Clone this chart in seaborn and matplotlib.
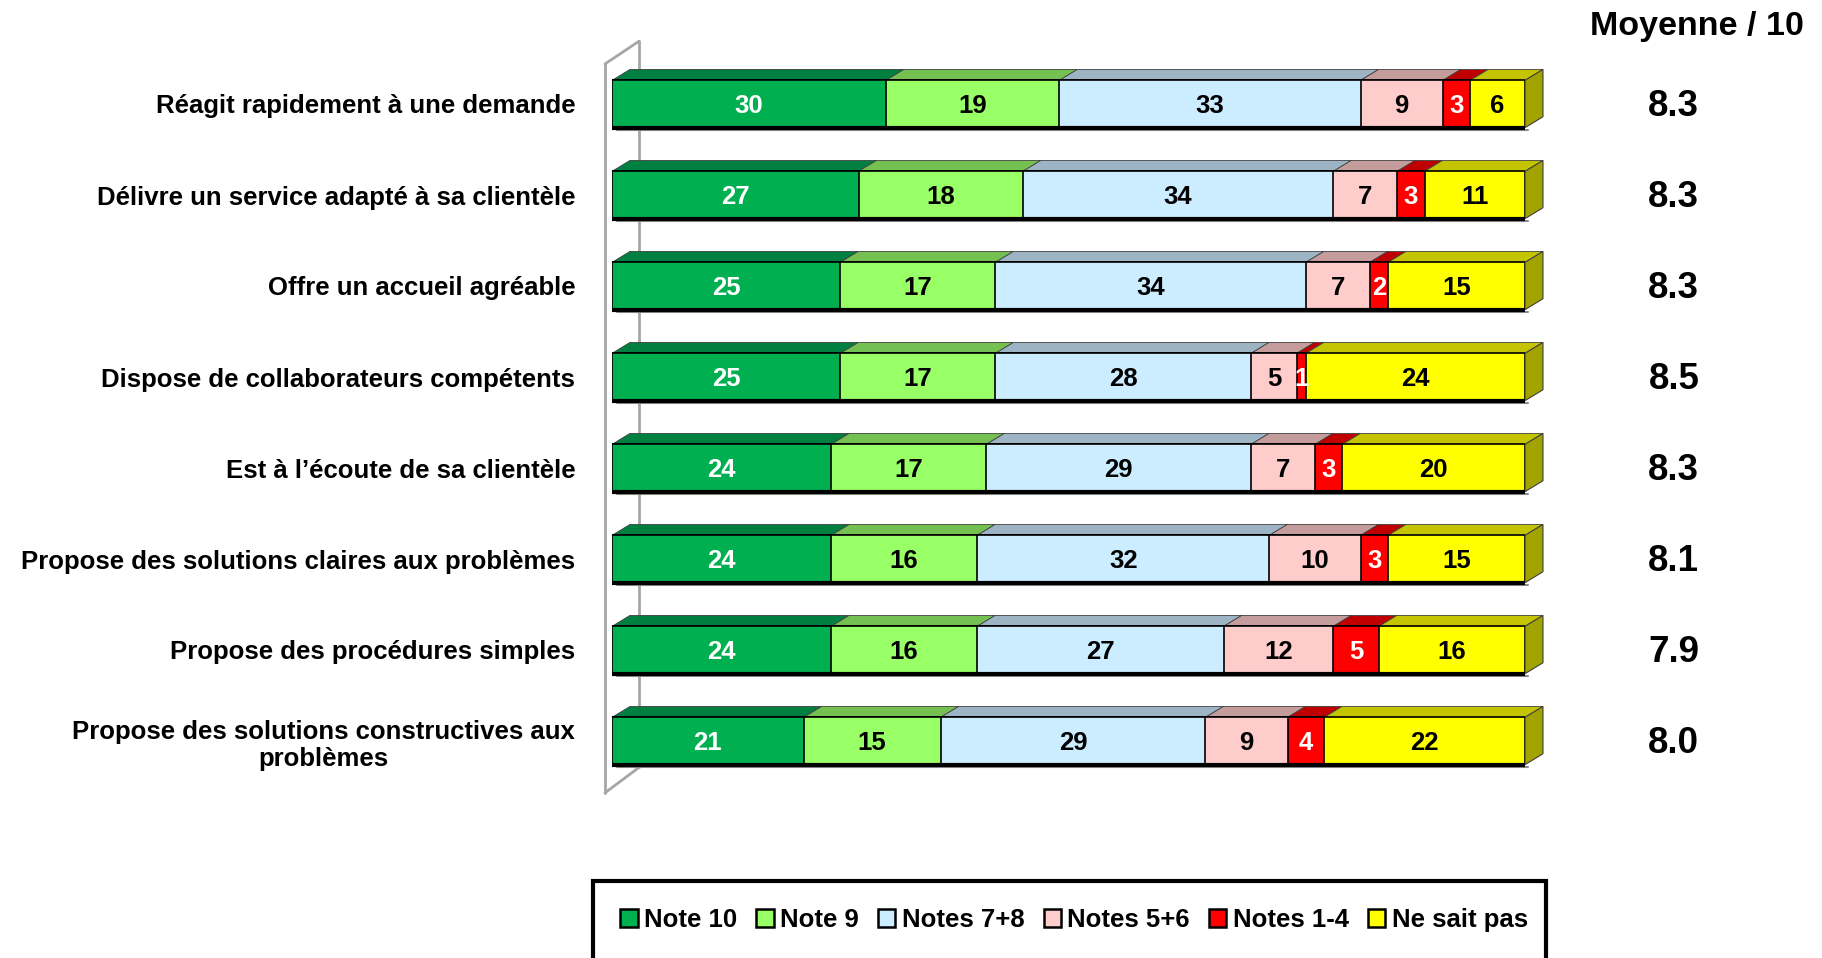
import pandas as pd
import numpy as np
import matplotlib
matplotlib.use("Agg")
import matplotlib.pyplot as plt
import seaborn as sns
from matplotlib import font_manager
from matplotlib.patches import Polygon, Patch, Rectangle

# ---------------- DATA ----------------
categories = [
    "Réagit rapidement à une demande",
    "Délivre un service adapté à sa clientèle",
    "Offre un accueil agréable",
    "Dispose de collaborateurs compétents",
    "Est à l’écoute de sa clientèle",
    "Propose des solutions claires aux problèmes",
    "Propose des procédures simples",
    "Propose des solutions constructives aux\nproblèmes",
]
note_10 = [30, 27, 25, 25, 24, 24, 24, 21]
note_9 = [19, 18, 17, 17, 17, 16, 16, 15]
notes_7_8 = [33, 34, 34, 28, 29, 32, 27, 29]
notes_5_6 = [9, 7, 7, 5, 7, 10, 12, 9]
notes_1_4 = [3, 3, 2, 1, 3, 3, 5, 4]
ne_sait_pas = [6, 11, 15, 24, 20, 15, 16, 22]
moyennes = ["8.3", "8.3", "8.3", "8.5", "8.3", "8.1", "7.9", "8.0"]

series_names = ["Note 10", "Note 9", "Notes 7+8", "Notes 5+6", "Notes 1-4", "Ne sait pas"]
front_colors = ["#00B050", "#99FF66", "#CCECFF", "#FFCCCC", "#FF0000", "#FFFF00"]
top_colors = ["#008040", "#74C050", "#9CB4C4", "#C49C9C", "#C00000", "#C4C400"]
text_colors = ["white", "black", "black", "black", "white", "black"]
SIDE_COLOR = "#A3A300"

# ---------------- SETTINGS ----------------
BAR_H = 0.52
DX, DY = 1.97, 0.12   # depth of the 3D faces in data units
WALL = "#A6A6A6"

narrow_ok = any(f.name == "Liberation Sans Narrow" for f in font_manager.fontManager.ttflist)
LABEL_FAMILY = ["Liberation Sans Narrow", "Liberation Sans", "DejaVu Sans"] if narrow_ok else ["Liberation Sans", "DejaVu Sans"]
LABEL_SIZE = 22.5 if narrow_ok else 18.5
LEG_SIZE = 21.5 if narrow_ok else 18.5
HEAD_SIZE = 29 if narrow_ok else 24.5
NUM_FAMILY = ["Liberation Sans", "DejaVu Sans"]

sns.set_style("white")
plt.rcParams["font.family"] = ["Liberation Sans", "DejaVu Sans"]
plt.rcParams["text.color"] = "black"
plt.rcParams["ytick.color"] = "black"
plt.rcParams["ytick.labelcolor"] = "black"

df = pd.DataFrame({
    "cat": categories,
    "Note 10": note_10,
    "Note 9": note_9,
    "Notes 7+8": notes_7_8,
    "Notes 5+6": notes_5_6,
    "Notes 1-4": notes_1_4,
    "Ne sait pas": ne_sait_pas,
})
cum = df[series_names].cumsum(axis=1)
starts = cum - df[series_names]

fig = plt.figure(figsize=(18.22, 9.58), dpi=100)
ax = fig.add_axes([612 / 1822, 1 - 786.5 / 958, 913 / 1822, 728 / 958])

# stacked bars: draw cumulative totals from largest to smallest
for name, col in reversed(list(zip(series_names, front_colors))):
    sns.barplot(x=cum[name], y=df["cat"], orient="h", color=col, saturation=1,
                width=BAR_H, edgecolor="black", linewidth=1.2, ax=ax, zorder=3)

ax.set_xlim(0, 100)
ax.set_ylim(len(categories) - 0.5, -0.5)

# 3D top faces and right side
for i in range(len(categories)):
    yt = i - BAR_H / 2
    yb = i + BAR_H / 2
    for k, name in enumerate(series_names):
        s, e = starts.loc[i, name], cum.loc[i, name]
        if e <= s:
            continue
        ax.add_patch(Polygon([(s, yt), (e, yt), (e + DX, yt - DY), (s + DX, yt - DY)],
                             closed=True, facecolor=top_colors[k], edgecolor="#404040",
                             linewidth=0.6, zorder=2, clip_on=False))
        mid = (s + e) / 2
        ax.text(mid, i + 0.02, str(df.loc[i, name]), ha="center", va="center",
                color=text_colors[k], fontsize=18.5, fontweight="bold",
                family=NUM_FAMILY, zorder=5)
    total = cum.loc[i, series_names[-1]]
    ax.add_patch(Polygon([(total, yt), (total + DX, yt - DY), (total + DX, yb - DY), (total, yb)],
                         closed=True, facecolor=SIDE_COLOR, edgecolor="#404040",
                         linewidth=0.8, zorder=2, clip_on=False))
    ax.plot([0, total], [yb, yb], color="black", linewidth=3, zorder=4,
            solid_capstyle="butt", clip_on=False)
    ax.plot([DX * 0.3, total + DX * 0.15], [yb + 0.03, yb + 0.03], color="#8C8C8C",
            linewidth=1.5, zorder=1, clip_on=False)
    # mean score column
    ax.text(116.3, i + 0.03, moyennes[i], ha="center", va="center", fontsize=26.5,
            fontweight="bold", family=NUM_FAMILY, clip_on=False)

ax.text(118.8, -0.85, "Moyenne / 10", ha="center", va="center", fontsize=HEAD_SIZE,
        fontweight="heavy", family=LABEL_FAMILY, clip_on=False)

# back wall outline
ax.plot([-0.77, -0.77], [-0.44, 7.57], color=WALL, linewidth=2, zorder=1, clip_on=False)
ax.plot([2.96, 2.96], [-0.69, 7.29], color=WALL, linewidth=2, zorder=0, clip_on=False)
ax.plot([-0.77, 2.96], [-0.44, -0.69], color=WALL, linewidth=2, zorder=0, clip_on=False)
ax.plot([-0.77, 2.96], [7.57, 7.29], color=WALL, linewidth=2, zorder=0, clip_on=False)

# axes cosmetics
sns.despine(ax=ax, left=True, bottom=True)
ax.set_xlabel("")
ax.set_ylabel("")
ax.set_xticks([])
ax.set_yticks(range(len(categories)))
ax.set_yticklabels(categories, fontsize=LABEL_SIZE, fontweight="bold", color="black",
                   family=LABEL_FAMILY, multialignment="center")
ax.tick_params(axis="y", length=0, pad=26.5)

# legend in a box at the bottom
handles = [Patch(facecolor=c, edgecolor="black", linewidth=1.8) for c in front_colors]
leg = fig.legend(handles, series_names, loc="center", bbox_to_anchor=(1074 / 1822, 1 - 920 / 958),
                 ncol=6, frameon=False, handlelength=0.67, handleheight=0.67,
                 handletextpad=0.25, columnspacing=0.75,
                 prop={"family": LABEL_FAMILY, "size": LEG_SIZE, "weight": "bold"})
fig.patches.append(Rectangle((593 / 1822, -0.02), (1546 - 593) / 1822, 1 - 881 / 958 + 0.02,
                             transform=fig.transFigure, fill=False, edgecolor="black",
                             linewidth=3, zorder=0))

fig.savefig("out.png", dpi=100)
